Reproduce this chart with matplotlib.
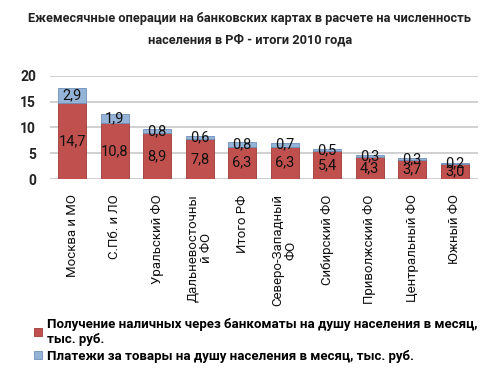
import matplotlib
matplotlib.use('Agg')
import matplotlib.pyplot as plt
import numpy as np

plt.rcParams['font.family'] = ['Roboto', 'DejaVu Sans']

regions = ['Москва и МО', 'С.Пб. и ЛО', 'Уральский ФО', 'Дальневосточны\nй ФО', 'Итого РФ',
           'Северо-Западный\nФО', 'Сибирский ФО', 'Приволжский ФО', 'Центральный ФО', 'Южный ФО']
cash = [14.7, 10.8, 8.9, 7.8, 6.3, 6.3, 5.4, 4.3, 3.7, 3.0]
pay = [2.9, 1.9, 0.8, 0.6, 0.8, 0.7, 0.5, 0.3, 0.3, 0.2]
yticks = [0, 5, 10, 15, 20]

cash_name = 'Получение наличных через банкоматы на душу населения в месяц,\nтыс. руб.'
pay_name = 'Платежи за товары на душу населения в месяц, тыс. руб.'

fig = plt.figure(figsize=(5.0, 3.85), dpi=100)
ax = fig.add_axes([0.10, 0.535, 0.856, 0.268])

x = np.arange(len(regions))
b1 = ax.bar(x, cash, width=0.66, color='#C0504D', edgecolor='#9B3B38', linewidth=0.6, zorder=2)
b2 = ax.bar(x, pay, width=0.66, bottom=cash, color='#95B3D7', edgecolor='#6F8FB8', linewidth=0.6, zorder=2)

def fmt(v):
    return ('%.1f' % v).replace('.', ',')

ax.bar_label(b1, labels=[fmt(v) for v in cash], label_type='center', fontsize=10.5, color='#111111')
ax.bar_label(b2, labels=[fmt(v) for v in pay], label_type='center', fontsize=10.5, color='#111111')

ax.set_ylim(0, 20)
ax.set_xlim(-0.52, len(regions) - 0.45)
ax.set_yticks(yticks)
ax.set_yticklabels([str(t) for t in yticks], fontsize=10, fontweight='bold', color='#222222')
ax.set_xticks(x)
ax.set_xticklabels(regions, rotation=90, fontsize=9.5, color='#111111', va='top', ha='center',
                   multialignment='center', linespacing=1.0)
ax.tick_params(axis='x', length=0, pad=11)
ax.tick_params(axis='y', length=0, pad=10)
ax.yaxis.grid(True, color='#C8C8C8', linewidth=1.2, zorder=0)
ax.set_axisbelow(True)
for s in ax.spines.values():
    s.set_visible(False)

fig.text(0.5, 0.953, 'Ежемесячные операции на банковских картах в расчете на численность',
         ha='center', va='center', fontsize=9.2, fontweight='bold', color='#222222')
fig.text(0.5, 0.897, 'населения в РФ - итоги 2010 года',
         ha='center', va='center', fontsize=9.2, fontweight='bold', color='#222222')

fig.legend([b1, b2], [cash_name, pay_name], loc='upper left', bbox_to_anchor=(0.045, 0.205),
           frameon=False, prop={'weight': 'bold', 'size': 9.5},
           handlelength=0.6, handleheight=0.6, handletextpad=0.35, labelspacing=0.3)

fig.savefig('out.png', dpi=100, facecolor='white')
